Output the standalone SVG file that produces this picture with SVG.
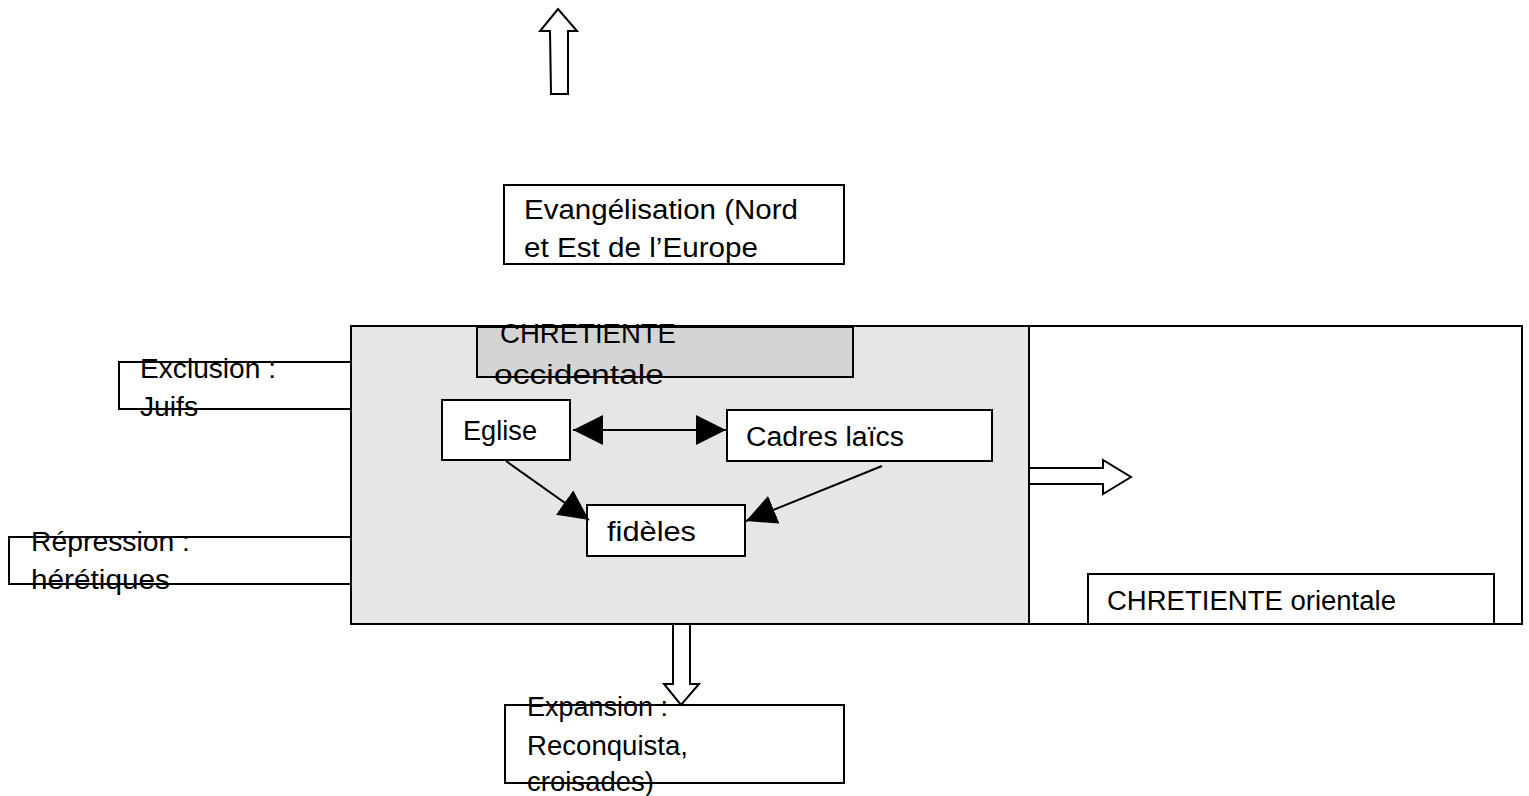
<svg xmlns="http://www.w3.org/2000/svg" width="1529" height="796" viewBox="0 0 1529 796">
<style>
.box{fill:#fff;stroke:#000;stroke-width:2}
.main{fill:#e6e6e6;stroke:#000;stroke-width:2}
.title{fill:#d4d4d4;stroke:#000;stroke-width:2}
.t{font-family:"Liberation Sans",Arial,sans-serif;font-size:27px;fill:#000}
.line{stroke:#000;stroke-width:2;fill:none}
.block{fill:#fff;stroke:#000;stroke-width:2;stroke-linejoin:miter}
</style>
<defs>
<marker id="head" markerUnits="userSpaceOnUse" markerWidth="30" markerHeight="30" refX="30" refY="15" orient="auto-start-reverse" viewBox="0 0 30 30">
<path d="M0,0 L30,15 L0,30 z" fill="#000"/>
</marker>
</defs>
<rect width="1529" height="796" fill="#fff"/>
<g id="occidentale">
<rect class="main" x="351" y="326" width="678" height="298"/>
</g>
<g id="orientale">
<rect class="box" x="1029" y="326" width="493" height="298"/>
</g>
<g id="orientale-label">
<rect class="box" x="1088" y="574" width="406" height="50"/>
<text class="t" x="1107" y="610" textLength="289" lengthAdjust="spacingAndGlyphs">CHRETIENTE orientale</text>
</g>
<g id="occidentale-label">
<rect class="title" x="477" y="327" width="376" height="50"/>
<text class="t" x="500" y="343" textLength="176" lengthAdjust="spacingAndGlyphs">CHRETIENTE</text>
<text class="t" x="494" y="384" textLength="170" lengthAdjust="spacingAndGlyphs">occidentale</text>
</g>
<g id="evangelisation">
<rect class="box" x="504" y="185" width="340" height="79"/>
<text class="t" x="524" y="219" textLength="274" lengthAdjust="spacingAndGlyphs">Evangélisation (Nord</text>
<text class="t" x="524" y="257" textLength="234" lengthAdjust="spacingAndGlyphs">et Est de l’Europe</text>
</g>
<g id="exclusion">
<rect class="box" x="119" y="362" width="232" height="47"/>
<text class="t" x="140" y="378" textLength="136" lengthAdjust="spacingAndGlyphs">Exclusion :</text>
<text class="t" x="140" y="416" textLength="58" lengthAdjust="spacingAndGlyphs">Juifs</text>
</g>
<g id="repression">
<rect class="box" x="9" y="537" width="342" height="47"/>
<text class="t" x="31" y="551" textLength="159" lengthAdjust="spacingAndGlyphs">Répression :</text>
<text class="t" x="31" y="589" textLength="139" lengthAdjust="spacingAndGlyphs">hérétiques</text>
</g>
<g id="eglise">
<rect class="box" x="442" y="400" width="128" height="60"/>
<text class="t" x="463" y="440" textLength="74" lengthAdjust="spacingAndGlyphs">Eglise</text>
</g>
<g id="cadres">
<rect class="box" x="727" y="410" width="265" height="51"/>
<text class="t" x="746" y="446" textLength="158" lengthAdjust="spacingAndGlyphs">Cadres laïcs</text>
</g>
<g id="fideles">
<rect class="box" x="587" y="505" width="158" height="51"/>
<text class="t" x="607" y="541" textLength="89" lengthAdjust="spacingAndGlyphs">fidèles</text>
</g>
<g id="expansion">
<rect class="box" x="505" y="705" width="339" height="78"/>
<text class="t" x="527" y="716" textLength="141" lengthAdjust="spacingAndGlyphs">Expansion :</text>
<text class="t" x="527" y="755" textLength="161" lengthAdjust="spacingAndGlyphs">Reconquista,</text>
<text class="t" x="527" y="791" textLength="127" lengthAdjust="spacingAndGlyphs">croisades)</text>
</g>
<g id="connectors">
<line class="line" x1="573" y1="430" x2="726" y2="430" marker-start="url(#head)" marker-end="url(#head)"/>
<line class="line" x1="506" y1="461" x2="589" y2="520" marker-end="url(#head)"/>
<line class="line" x1="882" y1="466" x2="746" y2="521" marker-end="url(#head)"/>
<polygon class="block" points="558,9 577,31 568,31 568,94 551,94 550,31 540,31"/>
<polygon class="block" points="673,624 690,624 690,684 699,684 681,705 664,684 673,684"/>
<polygon class="block" points="1029,468 1103,468 1103,460 1131,477 1103,494 1103,484 1029,484"/>
</g>
</svg>
